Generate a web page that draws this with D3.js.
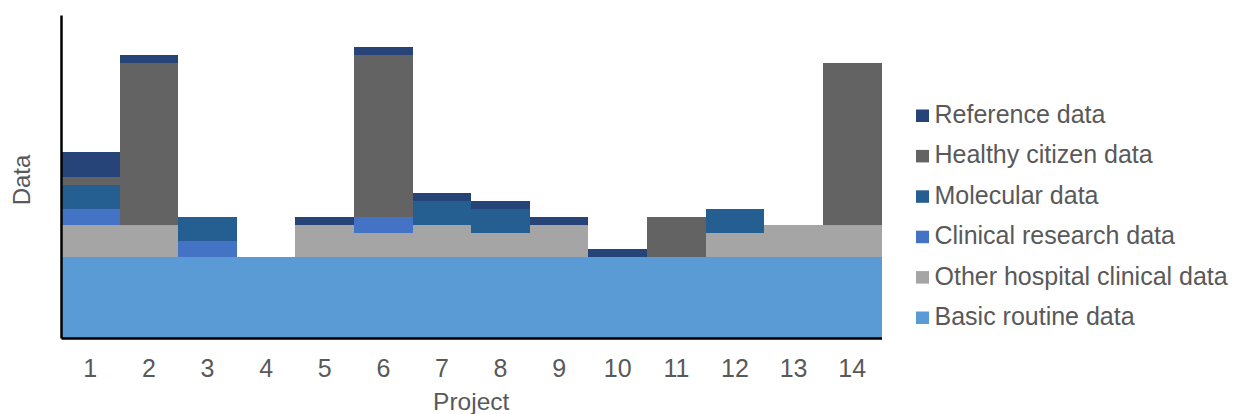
<!DOCTYPE html>
<html><head><meta charset="utf-8">
<script src="https://cdn.jsdelivr.net/npm/d3@7"></script>
<style>
body{margin:0;background:#fff;}
text{font-family:"Liberation Sans",Arial,sans-serif;fill:#595959;}
</style></head>
<body>
<svg id="chart" width="1239" height="414"></svg>
<script>
const projects = ["1","2","3","4","5","6","7","8","9","10","11","12","13","14"];
const seriesNames = ["Basic routine data","Other hospital clinical data","Clinical research data","Molecular data","Healthy citizen data","Reference data"];
const basic     = [10,10,10,10,10,10,10,10,10,10,10,10,10,10];
const other     = [4,4,0,0,4,3,4,3,4,0,0,3,4,4];
const clinical  = [2,0,2,0,0,2,0,0,0,0,0,0,0,0];
const molecular = [3,0,3,0,0,0,3,3,0,0,0,3,0,0];
const healthy   = [1,20,0,0,0,20,0,0,0,0,5,0,0,20];
const reference = [3,1,0,0,1,1,1,1,1,1,0,0,0,0];
const colors = ["#5B9BD5","#A5A5A5","#4472C4","#255E91","#636363","#264478"];

const seriesValues = [basic, other, clinical, molecular, healthy, reference];
const table = projects.map((p,i)=>{
  const row = {project:p};
  seriesNames.forEach((s,j)=>row[s]=seriesValues[j][i]);
  return row;
});

const svg = d3.select("#chart");
const mLeft = 61, mRight = 881.5, mTop = 15, mBottom = 338;
const x = d3.scaleBand().domain(projects).range([mLeft,mRight]).padding(0);
const y = d3.scaleLinear().domain([0,40]).range([mBottom,mTop]);
const color = d3.scaleOrdinal().domain(seriesNames).range(colors);

const stacked = d3.stack().keys(seriesNames)(table);

svg.append("g").attr("shape-rendering","crispEdges").selectAll("g").data(stacked).join("g")
  .attr("fill", d=>color(d.key))
  .selectAll("rect").data(d=>d.filter(v=>v[1]>v[0])).join("rect")
  .attr("x", d=>Math.round(x(d.data.project)))
  .attr("width", d=>Math.round(x(d.data.project)+x.bandwidth())-Math.round(x(d.data.project)))
  .attr("y", d=>Math.round(y(d[1])))
  .attr("height", d=>Math.round(y(d[0]))-Math.round(y(d[1])));

// axes
const xAxis = svg.append("g").attr("transform",`translate(0,${mBottom})`)
  .call(d3.axisBottom(x).tickSize(0).tickPadding(21));
xAxis.select(".domain").attr("stroke","#000").attr("stroke-width",2.5);
xAxis.selectAll("text").attr("font-size","25px").attr("fill","#595959")
  .attr("font-family","Liberation Sans, Arial, sans-serif");

const yAxis = svg.append("g").attr("transform",`translate(${mLeft},0)`)
  .call(d3.axisLeft(y).tickValues([]).tickSize(0));
yAxis.select(".domain").attr("stroke","#000").attr("stroke-width",2.5);

svg.append("text").attr("x",(mLeft+mRight)/2).attr("y",410)
  .attr("text-anchor","middle").attr("font-size","24.5px").text("Project");
svg.append("text").attr("transform",`translate(30,180) rotate(-90)`)
  .attr("text-anchor","middle").attr("font-size","24px").text("Data");

// legend
const legendOrder = seriesNames.slice().reverse();
const lg = svg.append("g").selectAll("g").data(legendOrder).join("g")
  .attr("transform",(d,i)=>`translate(916,${123 + i*40.4})`);
lg.append("rect").attr("x",0).attr("y",-13.5).attr("width",13).attr("height",12.5).attr("fill",d=>color(d));
lg.append("text").attr("x",18.5).attr("y",0).attr("font-size","25px").text(d=>d);
</script>
</body></html>
